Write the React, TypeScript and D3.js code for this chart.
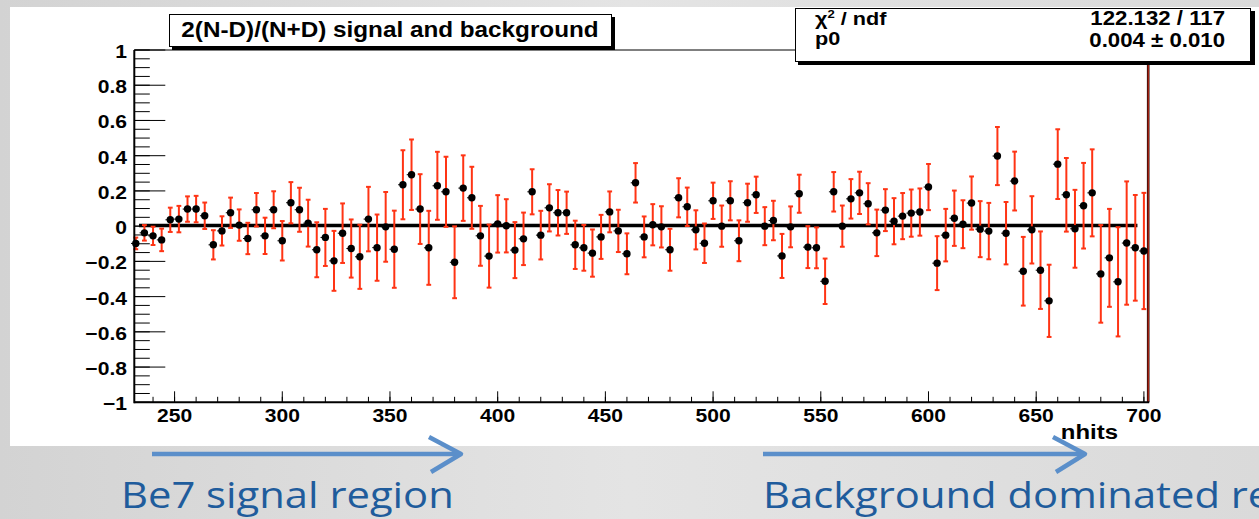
import React from "react";
import * as d3 from "d3";

// Asymmetry histogram: 4-nhit bins from 230 to 702
const BIN_LOW = 230;
const BIN_HIGH = 702;
const BIN_WIDTH = 4;

const asymValues: number[] = [
  -0.098, -0.038, -0.055, -0.078, 0.036, 0.040, 0.097, 0.097, 0.059, -0.106,
  -0.027, 0.076, 0.006, -0.070, 0.093, -0.055, 0.093, -0.083, 0.133, 0.093,
  0.017, -0.134, -0.064, -0.197, -0.040, -0.127, -0.174, 0.040, -0.122, -0.004,
  -0.131, 0.235, 0.292, 0.097, -0.123, 0.229, 0.195, -0.205, 0.216, 0.161,
  -0.055, -0.170, 0.013, 0.002, -0.136, -0.072, 0.195, -0.051, 0.104, 0.076,
  0.076, -0.106, -0.123, -0.153, -0.061, 0.081, -0.027, -0.157, 0.246, -0.061,
  0.008, -0.004, -0.134, 0.161, 0.110, -0.021, -0.097, 0.144, 0.000, 0.144,
  -0.083, 0.133, 0.178, 0.000, 0.032, -0.169, -0.004, 0.184, -0.119, -0.123,
  -0.313, 0.195, 0.000, 0.155, 0.189, 0.127, -0.038, 0.091, 0.028, 0.057,
  0.074, 0.080, 0.222, -0.210, -0.051, 0.045, 0.011, 0.131, -0.017, -0.028,
  0.398, -0.040, 0.256, -0.256, -0.021, -0.250, -0.424, 0.352, 0.178, -0.015,
  0.116, 0.189, -0.271, -0.180, -0.316, -0.096, -0.123, -0.141,
];

const asymErrors: number[] = [
  0.033, 0.044, 0.052, 0.064, 0.069, 0.075, 0.072, 0.075, 0.075, 0.083,
  0.083, 0.086, 0.089, 0.089, 0.095, 0.103, 0.105, 0.112, 0.117, 0.125,
  0.133, 0.156, 0.162, 0.170, 0.169, 0.165, 0.182, 0.183, 0.188, 0.198,
  0.219, 0.196, 0.200, 0.198, 0.210, 0.193, 0.199, 0.204, 0.186, 0.176,
  0.170, 0.179, 0.163, 0.151, 0.159, 0.149, 0.128, 0.138, 0.134, 0.129,
  0.120, 0.137, 0.130, 0.134, 0.125, 0.116, 0.120, 0.116, 0.112, 0.116,
  0.117, 0.117, 0.119, 0.111, 0.109, 0.111, 0.112, 0.103, 0.117, 0.111,
  0.116, 0.108, 0.103, 0.108, 0.112, 0.125, 0.116, 0.108, 0.119, 0.116,
  0.129, 0.112, 0.117, 0.112, 0.120, 0.117, 0.132, 0.119, 0.131, 0.131,
  0.134, 0.134, 0.131, 0.153, 0.149, 0.157, 0.136, 0.151, 0.159, 0.160,
  0.165, 0.177, 0.167, 0.195, 0.191, 0.220, 0.205, 0.198, 0.209, 0.221,
  0.243, 0.247, 0.277, 0.278, 0.310, 0.350, 0.300, 0.330,
];

const binCenters: number[] = asymValues.map((_, i) => BIN_LOW + BIN_WIDTH * (i + 0.5));

// Constant fit result
const fitP0 = 0.004;
const fitRange: [number, number] = [233.5, 697];

const xMajorTicks = [250, 300, 350, 400, 450, 500, 550, 600, 650, 700];
const xMinorTicks = d3.range(240, 701, 10);
const yMajorTicks = [-1, -0.8, -0.6, -0.4, -0.2, 0, 0.2, 0.4, 0.6, 0.8, 1];
const yMinorTicks = d3.range(-1, 1.001, 0.05);

const titleText = "2(N-D)/(N+D) signal and background";
const statRows = [
  { label: "ndf", value: "122.132 / 117" },
  { label: "p0", value: "0.004 \u00b1 0.010" },
];
const xAxisTitle = "nhits";
const regionNotes = ["Be7 signal region", "Background dominated region"];

const W = 1259;
const H = 519;
const FONT = "'Liberation Sans', Arial, Helvetica, sans-serif";
const SX = 1.14; // horizontal stretch of the pasted canvas

function SText(props: {
  x: number;
  y: number;
  size: number;
  anchor?: "start" | "middle" | "end";
  sx?: number;
  weight?: string | number;
  fill?: string;
  family?: string;
  children: React.ReactNode;
}) {
  const { x, y, size, anchor = "start", sx = SX, weight = "bold", fill = "#000", family = FONT, children } = props;
  return (
    <text
      transform={`translate(${x},${y}) scale(${sx},1)`}
      textAnchor={anchor}
      fontSize={size}
      fontWeight={weight}
      fill={fill}
      fontFamily={family}
    >
      {children}
    </text>
  );
}

export default function App() {
  const x = d3.scaleLinear().domain([BIN_LOW, BIN_HIGH]).range([131.5, 1148.2]);
  const y = d3.scaleLinear().domain([-1, 1]).range([402.3, 50]);

  const frameL = 134.3;
  const frameR = x(BIN_HIGH);
  const frameT = y(1);
  const frameB = y(-1);

  const yMajLen = 31;
  const yMinLen = 15.5;
  const xMajLen = 11;
  const xMinLen = 5.5;

  const errColor = "#ff3414";
  const arrowColor = "#5b8fca";
  const noteColor = "#1f5c9c";

  return (
    <svg
      width={W}
      height={H}
      style={{ position: "absolute", left: 0, top: 0 }}
      xmlns="http://www.w3.org/2000/svg"
    >
      <defs>
        <linearGradient id="bgGrad" x1="0" y1="0" x2="1" y2="0">
          <stop offset="0" stopColor="#d3d3d3" />
          <stop offset="0.5" stopColor="#e4e4e4" />
          <stop offset="1" stopColor="#dadada" />
        </linearGradient>
        <radialGradient id="swoosh" cx="0" cy="0.5" r="0.5">
          <stop offset="0" stopColor="#b8b8b8" stopOpacity="0.8" />
          <stop offset="1" stopColor="#d0d0d0" stopOpacity="0" />
        </radialGradient>
      </defs>

      {/* slide background */}
      <rect x={0} y={0} width={W} height={H} fill="url(#bgGrad)" />
      <ellipse cx={0} cy={250} rx={40} ry={110} fill="url(#swoosh)" />

      {/* canvas */}
      <rect x={10} y={7} width={W - 10} height={439} fill="#ffffff" />

      {/* y ticks */}
      {yMinorTicks.map((t, i) => (
        <line key={`ym${i}`} x1={frameL} x2={frameL + yMinLen} y1={y(t)} y2={y(t)} stroke="#000" strokeWidth={1} />
      ))}
      {yMajorTicks.map((t) => (
        <line key={`yM${t}`} x1={frameL} x2={frameL + yMajLen} y1={y(t)} y2={y(t)} stroke="#000" strokeWidth={1} />
      ))}
      {yMajorTicks.map((t) => (
        <SText key={`yl${t}`} x={127} y={y(t) + 8} size={18.5} anchor="end">
          {d3.format("")(+t.toFixed(1))}
        </SText>
      ))}

      {/* x ticks */}
      {xMinorTicks.map((t) => (
        <line key={`xm${t}`} x1={x(t)} x2={x(t)} y1={frameB} y2={frameB - xMinLen} stroke="#000" strokeWidth={1} />
      ))}
      {xMajorTicks.map((t) => (
        <line key={`xM${t}`} x1={x(t)} x2={x(t)} y1={frameB} y2={frameB - xMajLen} stroke="#000" strokeWidth={1} />
      ))}
      {xMajorTicks.map((t) => (
        <SText key={`xl${t}`} x={x(t)} y={421.5} size={18.5} anchor="middle">
          {t}
        </SText>
      ))}
      <SText x={1118} y={439} size={21} anchor="end">
        {xAxisTitle}
      </SText>

      {/* frame */}
      <line x1={frameL} x2={frameR} y1={frameT} y2={frameT} stroke="#000" strokeWidth={1} />
      <line x1={frameR} x2={frameR} y1={frameT} y2={frameB} stroke="#1a0000" strokeWidth={2.6} />
      <line x1={frameR} x2={frameR} y1={frameT} y2={frameB} stroke="#e0301a" strokeWidth={1} />

      {/* fit */}
      <line
        x1={x(fitRange[0])}
        x2={x(fitRange[1])}
        y1={y(fitP0)}
        y2={y(fitP0)}
        stroke="#000"
        strokeWidth={3.4}
      />

      {/* error bars */}
      {asymValues.map((v, i) => {
        const cx = x(binCenters[i]);
        const e = asymErrors[i];
        const top = y(v + e);
        const bot = y(v - e);
        return (
          <g key={`e${i}`} stroke={errColor} strokeWidth={2}>
            <line x1={cx} x2={cx} y1={top} y2={bot} />
            <line x1={cx - 2.4} x2={cx + 2.4} y1={top} y2={top} />
            <line x1={cx - 2.4} x2={cx + 2.4} y1={bot} y2={bot} />
          </g>
        );
      })}

      {/* markers */}
      {asymValues.map((v, i) => {
        const cx = x(binCenters[i]);
        const cy = y(v);
        return (
          <g key={`p${i}`}>
            <line x1={cx - 4.8} x2={cx + 2} y1={cy} y2={cy} stroke="#000" strokeWidth={1} />
            <circle cx={cx} cy={cy} r={3.7} fill="#000" />
          </g>
        );
      })}

      {/* axes lines */}
      <line x1={frameL} x2={frameL} y1={frameT} y2={frameB + 1} stroke="#000" strokeWidth={2} />
      <line x1={frameL} x2={frameR + 1} y1={frameB} y2={frameB} stroke="#000" strokeWidth={2} />

      {/* title box */}
      <rect x={172} y={17} width={443} height={33} fill="#000" />
      <rect x={169.5} y={14.5} width={442} height={32} fill="#fff" stroke="#000" strokeWidth={1} />
      <SText x={390} y={36.5} size={21.3} anchor="middle">
        {titleText}
      </SText>

      {/* fit statistics box */}
      <rect x={798} y={11} width={457} height={54} fill="#000" />
      <rect x={795.5} y={8.5} width={455} height={53} fill="#fff" stroke="#000" strokeWidth={1} />
      <SText x={815} y={25} size={19}>
        {"\u03c7"}
        <tspan fontSize={11.5} dy={-7.5}>2</tspan>
        <tspan dy={7.5}>{" / " + statRows[0].label}</tspan>
      </SText>
      <SText x={1225} y={25} size={19.5} anchor="end">
        {statRows[0].value}
      </SText>
      <SText x={815} y={45} size={19}>
        {statRows[1].label}
      </SText>
      <SText x={1225} y={47} size={19.5} anchor="end">
        {statRows[1].value}
      </SText>

      {/* region arrows */}
      <g stroke={arrowColor} strokeWidth={4.5} fill="none" strokeLinejoin="round">
        <line x1={152} x2={460} y1={454} y2={454} />
        <polyline points="429,437 461,454 431,472" />
        <line x1={763} x2={1084} y1={454} y2={454} />
        <polyline points="1053,437 1085,454 1056,472" />
      </g>
      <SText x={121} y={508} size={36} sx={1.16} weight="normal" fill={noteColor} family="'Open Sans', sans-serif">
        {regionNotes[0]}
      </SText>
      <SText x={763} y={508} size={36} sx={1.16} weight="normal" fill={noteColor} family="'Open Sans', sans-serif">
        {regionNotes[1]}
      </SText>
    </svg>
  );
}
